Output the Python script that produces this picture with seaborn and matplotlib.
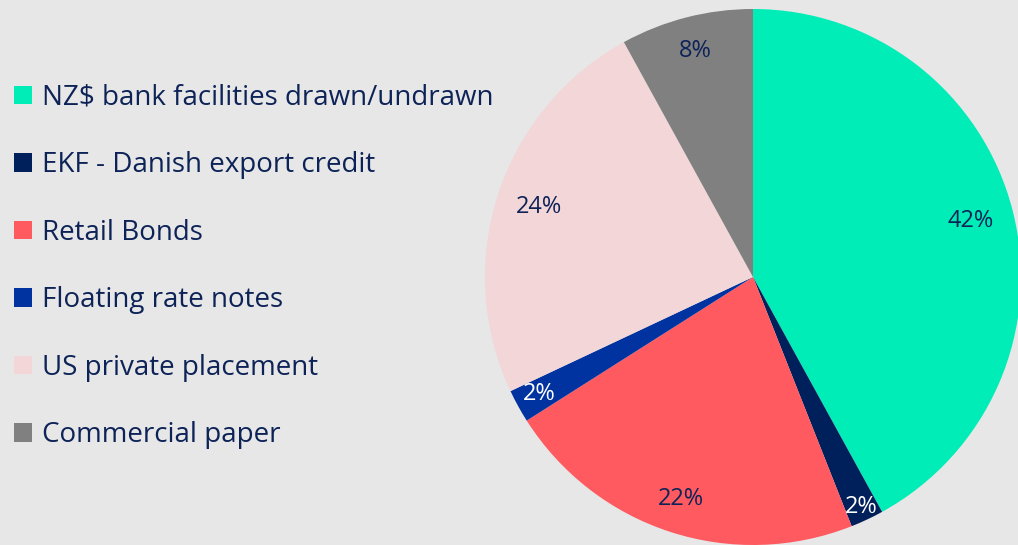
import seaborn as sns
import matplotlib.pyplot as plt
from matplotlib.patches import Patch
import numpy as np

# Funding sources (share of total, %)
categories = ['NZ$ bank facilities drawn/undrawn', 'EKF - Danish export credit',
              'Retail Bonds', 'Floating rate notes', 'US private placement',
              'Commercial paper']
shares = [42, 2, 22, 2, 24, 8]
labels = ['42%', '2%', '22%', '2%', '24%', '8%']

colors = ['#00EDB7', '#00205B', '#FF5A5F', '#0033A0', '#F2D6D8', '#808080']
label_colors = ['#0D2357', 'white', '#0D2357', 'white', '#0D2357', '#0D2357']
label_dist = [0.84, 0.95, 0.87, 0.91, 0.84, 0.87]

bg = '#E7E7E7'
text_color = '#0D2357'

sns.set_theme(style='white')
plt.rcParams['font.family'] = ['Open Sans', 'DejaVu Sans']

fig = plt.figure(figsize=(10.18, 5.45), dpi=100, facecolor=bg)
ax = fig.add_axes([485 / 1018, 0, 536 / 1018, 536 / 545])
ax.set_facecolor(bg)

wedges, _ = ax.pie(shares, colors=colors, startangle=90, counterclock=False,
                   radius=1.0, wedgeprops=dict(linewidth=0))

# percentage labels placed along each wedge's mid-angle
for w, lab, c, d in zip(wedges, labels, label_colors, label_dist):
    ang = np.deg2rad((w.theta1 + w.theta2) / 2)
    ax.text(d * np.cos(ang), d * np.sin(ang), lab, ha='center', va='center',
            color=c, fontsize=17)

ax.set_xlim(-1, 1)
ax.set_ylim(-1, 1)
ax.set_aspect('equal')
ax.axis('off')

handles = [Patch(facecolor=c, edgecolor='none') for c in colors]
leg = fig.legend(handles, categories, loc='upper left',
                 bbox_to_anchor=(14 / 1018, 0.846), frameon=False,
                 borderpad=0, borderaxespad=0,
                 fontsize=20, labelcolor=text_color,
                 handlelength=0.65, handleheight=0.65, handletextpad=0.35,
                 labelspacing=1.42)

fig.savefig('out.png', dpi=100, facecolor=bg)
